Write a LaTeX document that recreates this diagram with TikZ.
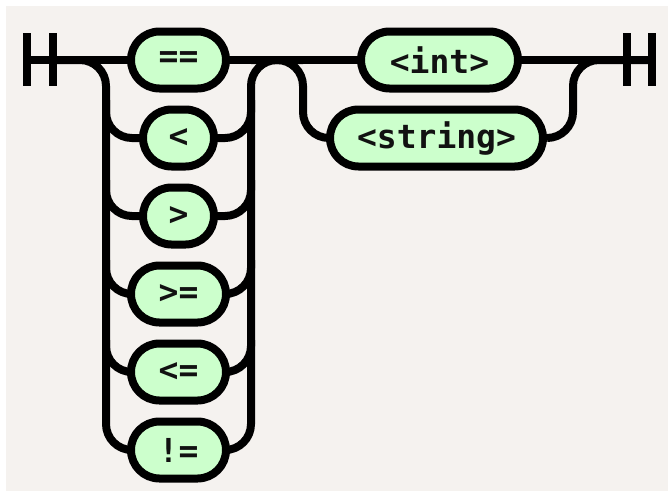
\documentclass[tikz,border=0pt]{standalone}
\usepackage{fontspec}
\setmonofont{DejaVu Sans Mono}
\definecolor{bgc}{HTML}{F5F2EF}
\definecolor{termfill}{HTML}{CCFFCC}
\definecolor{txt}{HTML}{111111}
\begin{document}
\begin{tikzpicture}[x=1pt,y=-1pt,line width=8pt,
  term/.style={draw=black,fill=termfill,rounded corners=28.5pt,minimum height=57pt,inner sep=0pt,
    line width=8pt,text=txt,font=\ttfamily\bfseries\fontsize{33}{33}\selectfont},
  rail/.style={draw=black,line width=8pt,rounded corners=26pt},
  bar/.style={draw=black,line width=8pt}]
\useasboundingbox (0,0) rectangle (668,491);
\fill[white] (0,0) rectangle (668,491);
\fill[bgc] (6,6) rectangle (668,491);
% coordinates
\coordinate (s) at (26.5,60);
\coordinate (s2) at (52.5,60);
\coordinate (e2) at (626.5,60);
\coordinate (e) at (651.5,60);
\coordinate (L) at (106,60);
\coordinate (R) at (251,60);
\coordinate (L2) at (303,60);
\coordinate (R2) at (573,60);
% nodes
\node[term,minimum width=95pt] (eq) at (178.5,60) {==};
\node[term,minimum width=71pt] (lt) at (178.5,138) {<};
\node[term,minimum width=71pt] (gt) at (178.5,216) {>};
\node[term,minimum width=95pt] (ge) at (178.5,294) {>=};
\node[term,minimum width=95pt] (le) at (178.5,372) {<=};
\node[term,minimum width=95pt] (ne) at (178.5,450) {!=};
\node[term,minimum width=157pt] (int) at (439.5,60) {<int>};
\node[term,minimum width=213pt] (str) at (436.5,138) {<string>};
% rails
\begin{scope}[on background layer/.style={}]
\end{scope}
\draw[rail] (s) -- (eq.west);
\draw[rail] (eq.east) -- (int.west);
\draw[rail] (int.east) -- (e);
\draw[rail] (s2) -| (L |- ne) -- (ne.west);
\draw[rail] (L |- 0,100) |- (lt.west);
\draw[rail] (L |- 0,180) |- (gt.west);
\draw[rail] (L |- 0,260) |- (ge.west);
\draw[rail] (L |- 0,340) |- (le.west);
\draw[rail] (ne.east) -| (R) -- (L2);
\draw[rail] (lt.east) -| (R |- 0,100);
\draw[rail] (gt.east) -| (R |- 0,180);
\draw[rail] (ge.east) -| (R |- 0,260);
\draw[rail] (le.east) -| (R |- 0,340);
\draw[rail] (R) -| (L2 |- str) -- (str.west);
\draw[rail] (str.east) -| (R2) -- (e);
% bars
\draw[bar] (s) ++(0,-27) -- ++(0,53);
\draw[bar] (s2) ++(0,-27) -- ++(0,53);
\draw[bar] (e2) ++(0,-27) -- ++(0,53);
\draw[bar] (e) ++(0,-27) -- ++(0,53);
\end{tikzpicture}
\end{document}
